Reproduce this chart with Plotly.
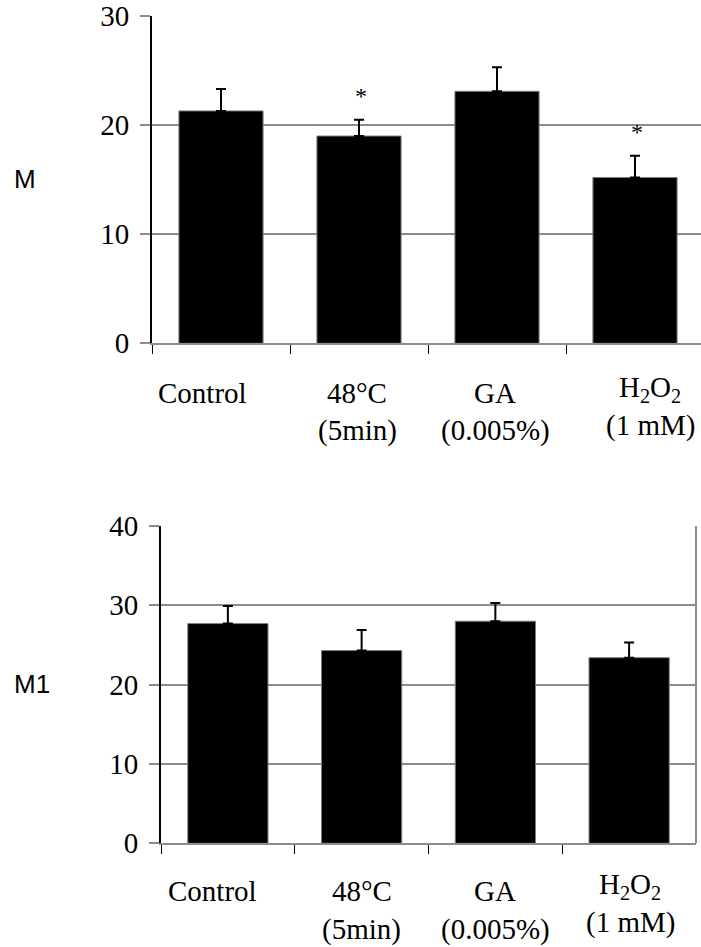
import plotly.graph_objects as go

# ---------------- data ----------------
categories = ["Control", "48°C (5min)", "GA (0.005%)", "H2O2 (1 mM)"]
label_line1 = ["Control", "48°C", "GA", "H<sub>2</sub>O<sub>2</sub>"]
label_line2 = ["", "(5min)", "(0.005%)", "(1 mM)"]
m_values = [21.3, 19.0, 23.1, 15.2]
m_errors = [2.0, 1.5, 2.2, 2.0]
m_significant = [False, True, False, True]
m1_values = [27.7, 24.3, 28.0, 23.4]
m1_errors = [2.2, 2.6, 2.3, 1.9]
m_ticks = [0, 10, 20, 30]
m1_ticks = [0, 10, 20, 30, 40]
panel_titles = ["M", "M1"]

# ---------------- style ----------------
W, H = 701, 947
SERIF = "Liberation Serif"
SANS = "Liberation Sans"
GRID = "#8c8c8c"
FS = 29

def py(pix):  # pixel row -> paper fraction
    return (H - pix) / H

fig = go.Figure()

for vals, errs, xa, ya, bw in [(m_values, m_errors, "x", "y", 0.61),
                               (m1_values, m1_errors, "x2", "y2", 0.60)]:
    fig.add_trace(go.Bar(
        x=categories, y=vals, width=bw, xaxis=xa, yaxis=ya,
        marker=dict(color="black", line=dict(color="#808080", width=1)),
        error_y=dict(type="data", symmetric=False, array=errs,
                     arrayminus=[0] * len(errs), color="black",
                     thickness=2, width=5),
        showlegend=False, hoverinfo="skip"))

yfont = dict(family=SERIF, size=FS, color="black")
common_y = dict(showgrid=True, gridcolor=GRID, gridwidth=2, zeroline=False,
                showline=True, linecolor="black", linewidth=2,
                ticks="outside", ticklen=10, tickwidth=2, tickcolor=GRID,
                tickfont=yfont, ticklabelstandoff=5, fixedrange=True,
                automargin=False)
common_x = dict(type="category", showline=True, linecolor=GRID, linewidth=2,
                ticks="outside", tickson="boundaries", ticklen=9,
                tickcolor="black", tickwidth=1, showticklabels=False,
                showgrid=False, zeroline=False, fixedrange=True,
                automargin=False)
overlay_x = dict(type="linear", tickmode="array",
                 tickvals=[-0.5, 0.5, 1.5, 2.5, 3.5], ticks="inside",
                 ticklen=8, tickcolor="black", tickwidth=1,
                 showticklabels=False, showgrid=False, zeroline=False,
                 showline=False, fixedrange=True, automargin=False)

top_xr = [-0.5, -0.5 + (W - 152) / 138.0]
fig.update_layout(
    width=W, height=H, margin=dict(l=0, r=0, t=0, b=0, autoexpand=False),
    font=dict(family=SERIF, color="black"),
    paper_bgcolor="white", plot_bgcolor="white", bargap=0.4,
    xaxis=dict(domain=[152 / W, 1.0], range=top_xr, anchor="y", **common_x),
    yaxis=dict(domain=[py(343.3), py(16)], range=[0, 30], tickvals=m_ticks,
               anchor="x", **common_y),
    xaxis2=dict(domain=[161 / W, 696 / W], range=[-0.5, 3.5], anchor="y2",
                **common_x),
    yaxis2=dict(domain=[py(843.3), py(526)], range=[0, 40], tickvals=m1_ticks,
                anchor="x2", **common_y),
    # overlay axes giving the upward half of the crossing category ticks
    xaxis3=dict(overlaying="x", anchor="y", range=top_xr, **overlay_x),
    xaxis4=dict(overlaying="x2", anchor="y2", range=[-0.5, 3.5], **overlay_x),
)

# right border of the lower panel
fig.add_shape(type="line", xref="x2 domain", yref="y2 domain",
              x0=1, x1=1, y0=0, y1=1, line=dict(color=GRID, width=2))

# category labels (two lines each), placed under each panel's axis
lab_font = dict(family=SERIF, size=FS, color="black")
label_xshift = {"x": [-19, -2, -2, 15], "x2": [-15, 0, 0, 1]}
line1_yshift = {"x": [-50, -50, -50, -46], "x2": [-48, -48, -48, -43]}
line2_yshift = {"x": [-87, -87, -87, -82], "x2": [-86, -86, -86, -79]}
for xa, ya in [("x", "y"), ("x2", "y2")]:
    for i, cat in enumerate(categories):
        for txt, ysh in [(label_line1[i], line1_yshift[xa][i]),
                         (label_line2[i], line2_yshift[xa][i])]:
            if not txt:
                continue
            fig.add_annotation(x=cat, y=0, xref=xa, yref=ya, text=txt,
                               showarrow=False, xanchor="center",
                               yanchor="middle", xshift=label_xshift[xa][i],
                               yshift=ysh, font=lab_font)

# significance asterisks
for cat, v, e, sig in zip(categories, m_values, m_errors, m_significant):
    if sig:
        fig.add_annotation(x=cat, y=v + e, xref="x", yref="y", text="*",
                           showarrow=False, yanchor="bottom", xshift=2,
                           yshift=9, font=dict(family=SERIF, size=24,
                                                color="black"))

# panel titles
fig.add_annotation(x=25 / W, y=py(179), xref="paper", yref="paper",
                   text=panel_titles[0], showarrow=False, xanchor="center",
                   yanchor="middle", font=dict(family=SANS, size=26,
                                               color="black"))
fig.add_annotation(x=32 / W, y=py(684), xref="paper", yref="paper",
                   text=panel_titles[1], showarrow=False, xanchor="center",
                   yanchor="middle", font=dict(family=SANS, size=26,
                                               color="black"))

fig.write_html(
    "out.html",
    config={"displayModeBar": False},
    post_script="document.body.style.margin='0';"
                "document.body.style.overflow='hidden';")
